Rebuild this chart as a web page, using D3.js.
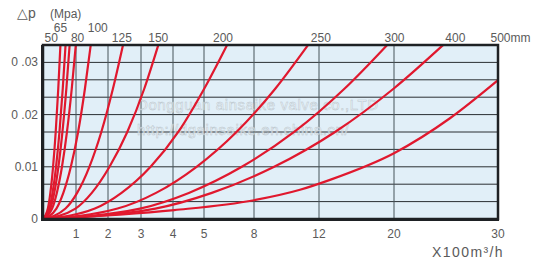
<!DOCTYPE html>
<html>
<head>
<meta charset="utf-8">
<script src="https://cdn.jsdelivr.net/npm/d3@7"></script>
<style>
  body { margin: 0; background: #fff; }
  text { font-family: "Liberation Sans", Arial, sans-serif; fill: #5a5a5a; }
</style>
</head>
<body>
<script>
// Flow ticks (x100 m3/h) and the uneven spacing used by the original chart
const xTicks = [1, 2, 3, 4, 5, 8, 12, 20, 30];
const xStops = [0, 1, 2, 3, 4, 5, 8, 12, 20, 30];
const xStopPx = [43, 76, 108, 141, 173, 204, 254, 319, 394, 498];

const yTicks = [0, 0.01, 0.02, 0.03];
const yTickLabels = ["0", "0.01", "0 .02", "0 .03"];

// Pipe size labels along the top, with their flow position and row
const sizeLabels = ["50", "65", "80", "100", "125", "150", "200", "250", "300", "400", "500mm"];
const sizeLabelQ = [0.25, 0.53, 1.05, 1.68, 2.42, 3.54, 6.14, 12.2, 20.05, 25.9, 31.2];
const sizeLabelRow = [0, 1, 0, 1, 0, 0, 0, 0, 0, 0, 0];

// Curves: flow Q and pressure loss dp (MPa)
const curveQ = [
  [0, 0.147, 0.223, 0.305, 0.385, 0.463, 0.528],
  [0, 0.19, 0.288, 0.395, 0.499, 0.599, 0.683],
  [0, 0.224, 0.341, 0.467, 0.589, 0.708, 0.807],
  [0, 0.276, 0.419, 0.575, 0.726, 0.872, 0.994],
  [0, 0.406, 0.616, 0.844, 1.066, 1.28, 1.46],
  [0, 0.682, 1.035, 1.418, 1.791, 2.151, 2.453],
  [0, 0.984, 1.494, 2.046, 2.584, 3.105, 3.54],
  [0, 1.59, 2.41, 3.30, 4.17, 5.02, 6.38],
  [0, 2.29, 3.47, 4.76, 6.95, 9.32, 11.32],
  [0, 2.97, 4.51, 7.27, 10.47, 14.74, 19.25],
  [0, 3.45, 5.47, 9.24, 13.71, 19.98, 24.71],
  [0, 4.04, 8, 10.83, 13.17, 20, 25.38, 30]
];
const curveDp = [
  [0, 0.002, 0.005, 0.01, 0.01667, 0.025, 0.0333],
  [0, 0.002, 0.005, 0.01, 0.01667, 0.025, 0.0333],
  [0, 0.002, 0.005, 0.01, 0.01667, 0.025, 0.0333],
  [0, 0.002, 0.005, 0.01, 0.01667, 0.025, 0.0333],
  [0, 0.002, 0.005, 0.01, 0.01667, 0.025, 0.0333],
  [0, 0.002, 0.005, 0.01, 0.01667, 0.025, 0.0333],
  [0, 0.002, 0.005, 0.01, 0.01667, 0.025, 0.0333],
  [0, 0.002, 0.005, 0.01, 0.01667, 0.025, 0.0333],
  [0, 0.002, 0.005, 0.01, 0.01667, 0.025, 0.0333],
  [0, 0.002, 0.005, 0.01, 0.01667, 0.025, 0.0333],
  [0, 0.002, 0.005, 0.01, 0.01667, 0.025, 0.0333],
  [0, 0.0017, 0.0036, 0.0056, 0.0075, 0.0126, 0.0193, 0.0266]
];

const width = 539;
const height = 280;
const yMax = 0.1 / 3;

const svg = d3.select("body").append("svg")
    .attr("width", width)
    .attr("height", height);

const x = d3.scaleLinear().domain(xStops).range(xStopPx);
const y = d3.scaleLinear().domain([0, yMax]).range([219, 45]);

// plot background
svg.append("rect")
    .attr("x", x(0)).attr("y", y(yMax))
    .attr("width", x(30) - x(0)).attr("height", y(0) - y(yMax))
    .attr("fill", "#e1eff8");

// grid
svg.append("g").selectAll("line")
    .data(d3.range(1, 10).map(i => i * yMax / 10))
    .join("line")
    .attr("x1", x(0)).attr("x2", x(30))
    .attr("y1", d => y(d)).attr("y2", d => y(d))
    .attr("stroke", "#2b2f33").attr("stroke-width", 1);

svg.append("g").selectAll("line")
    .data(xTicks.slice(0, -1))
    .join("line")
    .attr("x1", d => x(d)).attr("x2", d => x(d))
    .attr("y1", y(0)).attr("y2", y(yMax))
    .attr("stroke", "#46545a").attr("stroke-width", 1);

// watermark
const wm = svg.append("g")
    .attr("font-size", 15)
    .attr("letter-spacing", 0.6);
wm.append("text")
    .attr("x", 137).attr("y", 110)
    .style("fill", "#fbfdff").style("fill-opacity", 0.6)
    .attr("stroke", "#b9c5cc").attr("stroke-width", 0.5)
    .text("Dongguan ainsaike valve co.,LTD");
wm.append("text")
    .attr("x", 137).attr("y", 135)
    .style("fill", "#fbfdff").style("fill-opacity", 0.6)
    .attr("stroke", "#b9c5cc").attr("stroke-width", 0.5)
    .text("http://dgainsaike.en.china.cn/");

// curves
const line = d3.line()
    .x(d => x(d[0]))
    .y(d => y(d[1]))
    .curve(d3.curveMonotoneX);

svg.append("g").selectAll("path")
    .data(curveQ.map((qs, i) => qs.map((q, j) => [q, curveDp[i][j]])))
    .join("path")
    .attr("d", line)
    .attr("fill", "none")
    .attr("stroke", "#e0182e")
    .attr("stroke-width", 2.2);

// frame
svg.append("rect")
    .attr("x", x(0)).attr("y", y(yMax))
    .attr("width", x(30) - x(0)).attr("height", y(0) - y(yMax))
    .attr("fill", "none")
    .attr("stroke", "#1e2124")
    .attr("stroke-width", 2.5);
svg.append("line")
    .attr("x1", x(0) - 1).attr("x2", x(0) - 1)
    .attr("y1", y(yMax)).attr("y2", y(0) + 1)
    .attr("stroke", "#1e2124").attr("stroke-width", 2);
svg.append("line")
    .attr("x1", x(0) - 2).attr("x2", x(30) + 1)
    .attr("y1", y(0) + 1).attr("y2", y(0) + 1)
    .attr("stroke", "#1e2124").attr("stroke-width", 2);

// x tick labels
svg.append("g").selectAll("text")
    .data(xTicks)
    .join("text")
    .attr("x", d => x(d))
    .attr("y", 238)
    .attr("text-anchor", "middle")
    .attr("font-size", 12)
    .text(d => d);

// y tick labels
svg.append("g").selectAll("text")
    .data(yTicks)
    .join("text")
    .attr("x", 38)
    .attr("y", d => y(d) + 4)
    .attr("text-anchor", "end")
    .attr("font-size", 12)
    .text((d, i) => yTickLabels[i]);

// pipe size labels
svg.append("g").selectAll("text")
    .data(sizeLabels)
    .join("text")
    .attr("x", (d, i) => x(sizeLabelQ[i]))
    .attr("y", (d, i) => sizeLabelRow[i] ? 32 : 42)
    .attr("text-anchor", "middle")
    .attr("font-size", 12)
    .text(d => d);

// axis titles
svg.append("text")
    .attr("x", 17).attr("y", 18)
    .attr("font-size", 14)
    .text("△p");
svg.append("text")
    .attr("x", 50).attr("y", 18)
    .attr("font-size", 12)
    .text("(Mpa)");
svg.append("text")
    .attr("x", 504).attr("y", 257)
    .attr("text-anchor", "end")
    .attr("font-size", 14)
    .attr("letter-spacing", 1.4)
    .text("X100m³/h");
</script>
</body>
</html>
